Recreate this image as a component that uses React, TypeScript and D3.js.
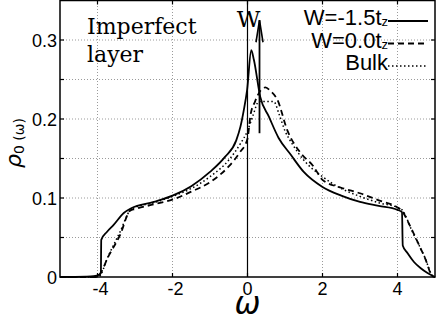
import React, { useRef, useEffect } from 'react';
import * as d3 from 'd3';

// W = -1.5tz (solid)
const omegaW15 = [-5, -4.3, -4.1, -3.95, -3.91, -3.9, -3.75, -3.57, -3.3, -3.1, -2.5, -2, -1.5, -1, -0.6, -0.3, -0.19, -0.1, -0.01, 0.1, 0.17, 0.34, 0.57, 0.83, 1.15, 1.5, 2, 2.5, 3, 3.5, 4, 4.12, 4.14, 4.27, 4.44, 4.62, 4.8, 5];
const rhoW15 = [0, 0.0005, 0.001, 0.003, 0.006, 0.047, 0.057, 0.066, 0.081, 0.087, 0.095, 0.103, 0.115, 0.133, 0.152, 0.173, 0.19, 0.211, 0.237, 0.287, 0.275, 0.228, 0.203, 0.176, 0.155, 0.133, 0.114, 0.103, 0.095, 0.09, 0.085, 0.082, 0.04, 0.03, 0.019, 0.011, 0.005, 0];

// W = 0.0tz (dashed)
const omegaW00 = [-5, -4.02, -3.98, -3.7, -3.4, -3.13, -3, -2.5, -2, -1.5, -1, -0.5, -0.2, 0, 0.08, 0.2, 0.35, 0.48, 0.6, 0.8, 1.06, 1.4, 1.76, 2, 2.5, 3, 3.5, 4, 4.13, 4.3, 4.53, 4.75, 4.93, 5];
const rhoW00 = [0, 0, 0.001, 0.027, 0.053, 0.084, 0.086, 0.092, 0.098, 0.108, 0.12, 0.14, 0.158, 0.175, 0.205, 0.222, 0.236, 0.24, 0.236, 0.224, 0.186, 0.158, 0.14, 0.123, 0.113, 0.106, 0.097, 0.088, 0.083, 0.068, 0.045, 0.022, 0.001, 0];

// Bulk (dotted)
const omegaBulk = [-5, -3.98, -3.7, -3.4, -3.12, -3, -2.5, -2, -1.5, -1, -0.5, -0.2, 0, 0.15, 0.3, 0.7, 0.85, 1, 1.2, 1.5, 2, 2.5, 3, 3.5, 4, 4.12, 4.4, 4.7, 4.98, 5];
const rhoBulk = [0, 0, 0.028, 0.057, 0.085, 0.088, 0.094, 0.102, 0.112, 0.127, 0.148, 0.168, 0.185, 0.205, 0.222, 0.222, 0.205, 0.185, 0.168, 0.148, 0.127, 0.112, 0.102, 0.094, 0.088, 0.085, 0.057, 0.028, 0, 0];

const xTicks = [-4, -2, 0, 2, 4];
const yTicks = [0, 0.1, 0.2, 0.3];
const yGrid = [0.05, 0.1, 0.15, 0.2, 0.25, 0.3];
const legendLabels = ['W=-1.5t', 'W=0.0t', 'Bulk'];
const legendSubs = ['z', 'z', ''];

// arrow marking the W peak
const arrowOmega = 0.32;
const arrowFrom = 0.182;
const arrowTo = 0.325;

const width = 436;
const height = 321;
const margin = { top: 0.5, right: 1, bottom: 44, left: 60 };

const Chart = () => {
  const svgRef = useRef<SVGSVGElement>(null);

  useEffect(() => {
    if (!svgRef.current) return;
    const svg = d3.select(svgRef.current);
    svg.selectAll('*').remove();

    const x = d3.scaleLinear().domain([-5, 5]).range([margin.left, width - margin.right]);
    const y = d3.scaleLinear().domain([0, 0.35]).range([height - margin.bottom, margin.top]);
    const [x0, x1] = x.range();
    const [yb, yt] = y.range();

    const sans = '"Liberation Sans", Arial, sans-serif';
    const serif = '"DejaVu Serif", serif';

    // grid
    svg.append('g')
      .selectAll('line')
      .data(yGrid)
      .join('line')
      .attr('x1', x0).attr('x2', x1)
      .attr('y1', d => y(d)).attr('y2', d => y(d))
      .attr('stroke', '#9a9a9a').attr('stroke-width', 1)
      .attr('stroke-dasharray', '1,2');
    svg.append('g')
      .selectAll('line')
      .data(xTicks.filter(d => d !== 0))
      .join('line')
      .attr('x1', d => x(d)).attr('x2', d => x(d))
      .attr('y1', yb).attr('y2', yt)
      .attr('stroke', '#9a9a9a').attr('stroke-width', 1)
      .attr('stroke-dasharray', '1,2');

    // zero line
    svg.append('line')
      .attr('x1', x(0)).attr('x2', x(0))
      .attr('y1', yb).attr('y2', yt)
      .attr('stroke', '#000').attr('stroke-width', 1.2);

    // inward ticks
    const tk = svg.append('g').attr('stroke', '#000').attr('stroke-width', 1.2);
    yGrid.forEach(d => {
      tk.append('line').attr('x1', x0).attr('x2', x0 + 4).attr('y1', y(d)).attr('y2', y(d));
      tk.append('line').attr('x1', x1).attr('x2', x1 - 4).attr('y1', y(d)).attr('y2', y(d));
    });
    xTicks.forEach(d => {
      tk.append('line').attr('x1', x(d)).attr('x2', x(d)).attr('y1', yb).attr('y2', yb - 4);
      tk.append('line').attr('x1', x(d)).attr('x2', x(d)).attr('y1', yt).attr('y2', yt + 4);
    });

    // curves
    const line = d3.line<[number, number]>()
      .x(d => x(d[0]))
      .y(d => y(d[1]))
      .curve(d3.curveMonotoneX);

    const series = [
      { om: omegaW15, rho: rhoW15, dash: null, w: 1.8 },
      { om: omegaW00, rho: rhoW00, dash: '6,4', w: 1.8 },
      { om: omegaBulk, rho: rhoBulk, dash: '1.5,2.5', w: 1.5 },
    ];
    series.forEach(s => {
      const pts = s.om.map((o, i) => [o, s.rho[i]] as [number, number]);
      svg.append('path')
        .datum(pts)
        .attr('d', line)
        .attr('fill', 'none')
        .attr('stroke', '#000')
        .attr('stroke-width', s.w)
        .attr('stroke-dasharray', s.dash);
    });

    // frame
    svg.append('rect')
      .attr('x', x0).attr('y', yt)
      .attr('width', x1 - x0).attr('height', yb - yt)
      .attr('fill', 'none').attr('stroke', '#000').attr('stroke-width', 1.5);

    // tick labels
    svg.append('g')
      .selectAll('text')
      .data(yTicks)
      .join('text')
      .attr('x', x0 - 3)
      .attr('y', d => y(d) + 6.5)
      .attr('text-anchor', 'end')
      .attr('font-family', sans).attr('font-size', 18)
      .text(d => (d === 0 ? '0' : d3.format('.1f')(d)));
    svg.append('g')
      .selectAll('text')
      .data(xTicks)
      .join('text')
      .attr('x', d => x(d) + (d < 0 ? 3 : 0))
      .attr('y', yb + 18)
      .attr('text-anchor', 'middle')
      .attr('font-family', sans).attr('font-size', 18)
      .text(d => String(d));

    // axis titles
    svg.append('text')
      .attr('x', x(0))
      .attr('y', 314)
      .attr('text-anchor', 'middle')
      .attr('font-family', '"DejaVu Sans", sans-serif')
      .attr('font-style', 'italic')
      .attr('font-size', 31)
      .text('ω');

    const yl = svg.append('text')
      .attr('transform', 'translate(21,168) rotate(-90)')
      .attr('font-family', '"DejaVu Sans", sans-serif');
    yl.append('tspan').attr('font-size', 22).attr('font-style', 'italic').text('ρ');
    yl.append('tspan').attr('font-size', 14).attr('dy', 3).text('0 (ω)');

    // annotation text
    svg.append('text')
      .attr('x', 87).attr('y', 34)
      .attr('font-family', serif).attr('font-size', 22)
      .text('Imperfect');
    svg.append('text')
      .attr('x', 87).attr('y', 62)
      .attr('font-family', serif).attr('font-size', 22)
      .text('layer');
    svg.append('text')
      .attr('x', x(0) + 1).attr('y', 27)
      .attr('text-anchor', 'middle')
      .attr('font-family', serif).attr('font-size', 23)
      .text('W');

    // arrow
    const ax = x(arrowOmega);
    svg.append('line')
      .attr('x1', ax).attr('x2', ax)
      .attr('y1', y(arrowFrom)).attr('y2', y(arrowTo))
      .attr('stroke', '#000').attr('stroke-width', 1.8);
    svg.append('path')
      .attr('d', `M${ax - 3.5},${y(arrowTo) + 22} L${ax},${y(arrowTo)} L${ax + 3.5},${y(arrowTo) + 22}`)
      .attr('fill', 'none').attr('stroke', '#000').attr('stroke-width', 1.6);

    // legend
    const dashes = [null, '6,4', '1.5,2.5'];
    legendLabels.forEach((lab, i) => {
      const ly = 25 + i * 22.5;
      const t = svg.append('text')
        .attr('x', 388).attr('y', ly)
        .attr('text-anchor', 'end')
        .attr('font-family', sans).attr('font-size', 22);
      t.append('tspan').text(lab);
      if (legendSubs[i]) t.append('tspan').attr('font-size', 13).attr('dy', 1).text(legendSubs[i]);
      svg.append('line')
        .attr('x1', 388).attr('x2', 428)
        .attr('y1', ly - 4).attr('y2', ly - 4)
        .attr('stroke', '#000').attr('stroke-width', i === 2 ? 1.5 : 1.8)
        .attr('stroke-dasharray', dashes[i]);
    });
  }, []);

  return (
    <svg
      ref={svgRef}
      width={width}
      height={height}
      style={{ position: 'absolute', left: 0, top: 0, background: '#fff' }}
    />
  );
};

export default function App() {
  return <Chart />;
}
